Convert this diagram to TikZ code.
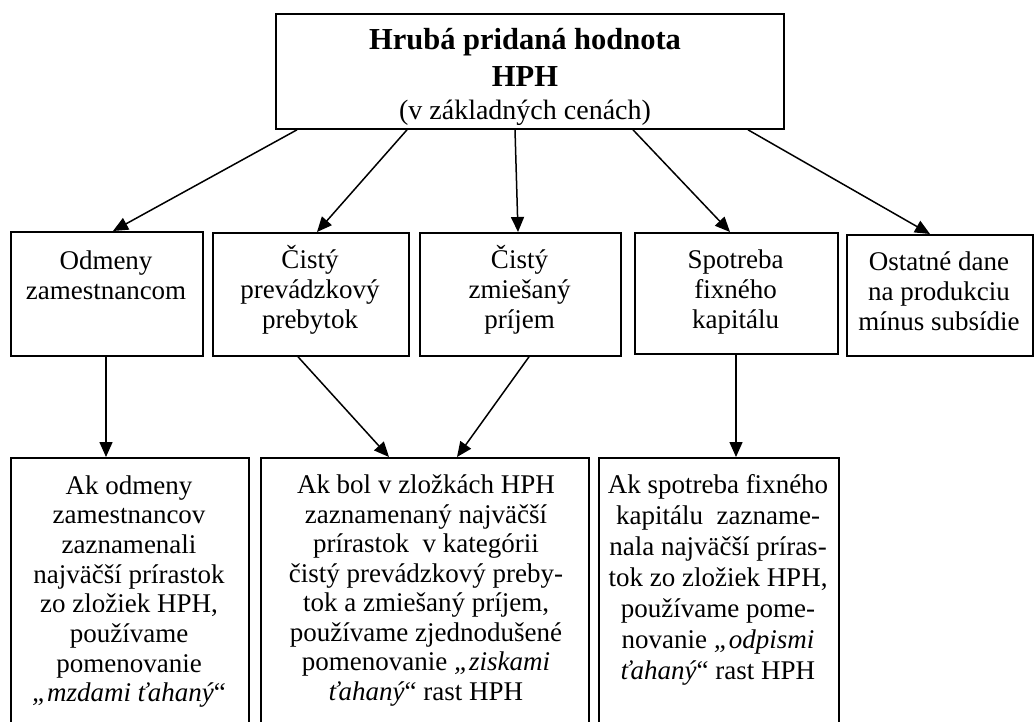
\documentclass[tikz,border=0pt]{standalone}
\usepackage{fontspec}
\setmainfont{Liberation Serif}
\usetikzlibrary{arrows.meta}
\tikzset{
  box/.style={draw, line width=1.8pt, inner sep=0pt, anchor=north west},
  txt/.style={align=center, inner sep=0pt, anchor=north},
  arr/.style={line width=1.5pt, -{Triangle[length=15pt,width=13pt]}},
}
\newcommand{\bigb}[1]{{\fontsize{30.5}{31.5}\selectfont\bfseries #1}}
\begin{document}
\begin{tikzpicture}[x=1pt,y=-1pt]
\useasboundingbox (0,0) rectangle (1035,721);
% boxes
\node[box, minimum width=508, minimum height=115] (top) at (275,13) {};
\node[box, minimum width=192, minimum height=124] (b1) at (10,231) {};
\node[box, minimum width=196, minimum height=123] (b2) at (212,232) {};
\node[box, minimum width=201, minimum height=123] (b3) at (419,232) {};
\node[box, minimum width=203, minimum height=121] (b4) at (634,232) {};
\node[box, minimum width=186, minimum height=121] (b5) at (846,234) {};
\node[box, minimum width=238, minimum height=280] (c1) at (10,457) {};
\node[box, minimum width=328, minimum height=280] (c2) at (260,457) {};
\node[box, minimum width=240, minimum height=280] (c3) at (598,457) {};
% texts
\node[txt, font=\fontsize{28}{32}\selectfont] (ttop) at (525,27)
  {\strut\bigb{Hrubá pridaná hodnota}\\[5pt]\bigb{HPH}\\[0.5pt](v základných cenách)};
\node[txt, font=\fontsize{27}{30}\selectfont] (t1) at (106,248) {\strut Odmeny\\zamestnancom};
\node[txt, font=\fontsize{27}{30}\selectfont] (t2) at (310,245.5) {\strut Čistý\\prevádzkový\\prebytok};
\node[txt, font=\fontsize{27}{30}\selectfont] (t3) at (519.5,245.5) {\strut Čistý\\zmiešaný\\príjem};
\node[txt, font=\fontsize{27}{30}\selectfont] (t4) at (735.5,247.5) {\strut Spotreba\\fixného\\kapitálu};
\node[txt, font=\fontsize{27}{30}\selectfont] (t5) at (939,249) {\strut Ostatné dane\\na produkciu\\mínus subsídie};
\node[txt, font=\fontsize{27}{29.7}\selectfont] (u1) at (129,473)
  {\strut Ak odmeny\\zamestnancov\\zaznamenali\\najväčší prírastok\\zo zložiek HPH,\\používame\\pomenovanie\\\textit{„mzdami ťahaný}“};
\node[txt, font=\fontsize{27}{29.5}\selectfont] (u2) at (426,473)
  {\strut Ak bol v zložkách HPH\\zaznamenaný najväčší\\prírastok\ \ v kategórii\\čistý prevádzkový preby-\\tok a zmiešaný príjem,\\používame zjednodušené\\pomenovanie \textit{„ziskami}\\\textit{ťahaný}“ rast HPH};
\node[txt, font=\fontsize{27}{31}\selectfont] (u3) at (718,472)
  {\strut Ak spotreba fixného\\kapitálu\ \ zazname-\\nala najväčší príras-\\tok zo zložiek HPH,\\používame pome-\\novanie \textit{„odpismi}\\\textit{ťahaný}“ rast HPH};
% arrows
\draw[arr] (top.south -| 297,0) -- (b1.north -| 113,0);
\draw[arr] (top.south -| 407,0) -- (b2.north -| 317,0);
\draw[arr] (top.south -| 515,0) -- (b3.north -| 518,0);
\draw[arr] (top.south -| 633,0) -- (b4.north -| 730,0);
\draw[arr] (top.south -| 748,0) -- (b5.north -| 930,0);
\draw[arr] (b1.south -| 106,0) -- (c1.north -| 106,0);
\draw[arr] (b2.south -| 298,0) -- (c2.north -| 389,0);
\draw[arr] (b3.south -| 529,0) -- (c2.north -| 457,0);
\draw[arr] (b4.south -| 736,0) -- (c3.north -| 736,0);
\end{tikzpicture}
\end{document}
